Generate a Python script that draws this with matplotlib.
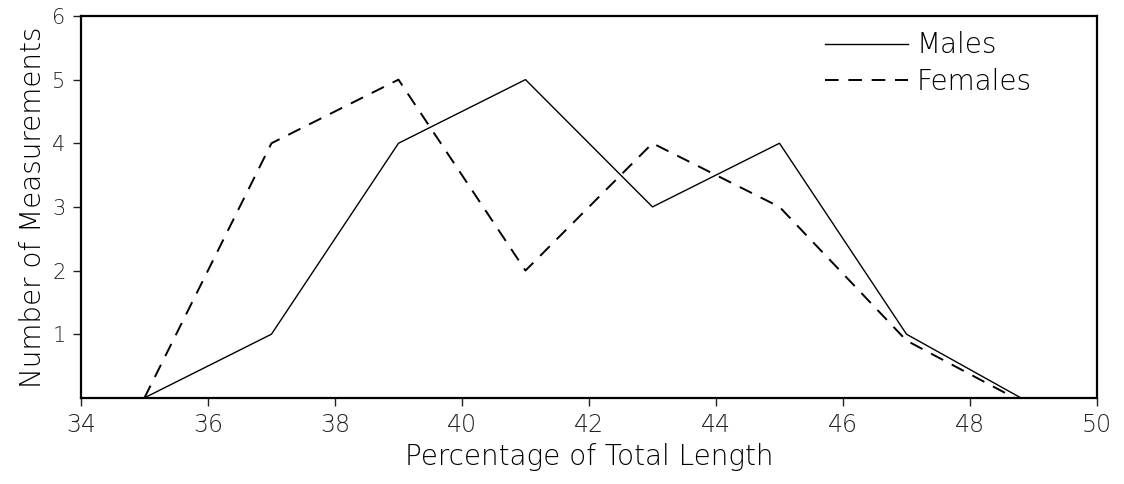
import numpy as np
import matplotlib
matplotlib.use('Agg')
import matplotlib.pyplot as plt

# Frequency polygons of measurements by sex
males_x = [35, 37, 39, 41, 43, 45, 47, 48.8]
males_y = [0, 1, 4, 5, 3, 4, 1, 0]
females_x = [35, 37, 39, 41, 43, 45, 47, 48.7]
females_y = [0, 4, 5, 2, 4, 3, 0.9, 0]

x_ticks = [34, 36, 38, 40, 42, 44, 46, 48, 50]
y_ticks = [1, 2, 3, 4, 5, 6]

plt.rcParams['font.family'] = ['DejaVu Sans']

fig = plt.figure(figsize=(11.24, 4.84), dpi=100)
ax = fig.add_axes([0.072, 0.178, 0.904, 0.789])

ax.plot(males_x, males_y, color='black', lw=1.0, label='Males')
ax.plot(females_x, females_y, color='black', lw=1.4, ls=(0, (7, 5)), label='Females')

ax.set_xlim(34, 50)
ax.set_ylim(0, 6)
ax.set_xticks(x_ticks)
ax.set_yticks(y_ticks)
ax.tick_params(direction='out', length=6, width=1, labelsize=17, colors='#222222', pad=5)
ax.tick_params(axis='y', labelsize=15)
for lbl in ax.get_xticklabels() + ax.get_yticklabels():
    lbl.set_fontweight('light')
for s in ax.spines.values():
    s.set_linewidth(1.6)

ax.set_xlabel('Percentage of Total Length', fontsize=20, fontweight='light', labelpad=4)
ax.set_ylabel('Number of Measurements', fontsize=20, fontweight='light', labelpad=4)

leg = ax.legend(loc='upper right', bbox_to_anchor=(0.96, 1.025), frameon=False,
                prop={'size': 20, 'weight': 'light'},
                handlelength=3.0, handletextpad=0.3, labelspacing=0.3)

fig.savefig('out.png', dpi=100)
